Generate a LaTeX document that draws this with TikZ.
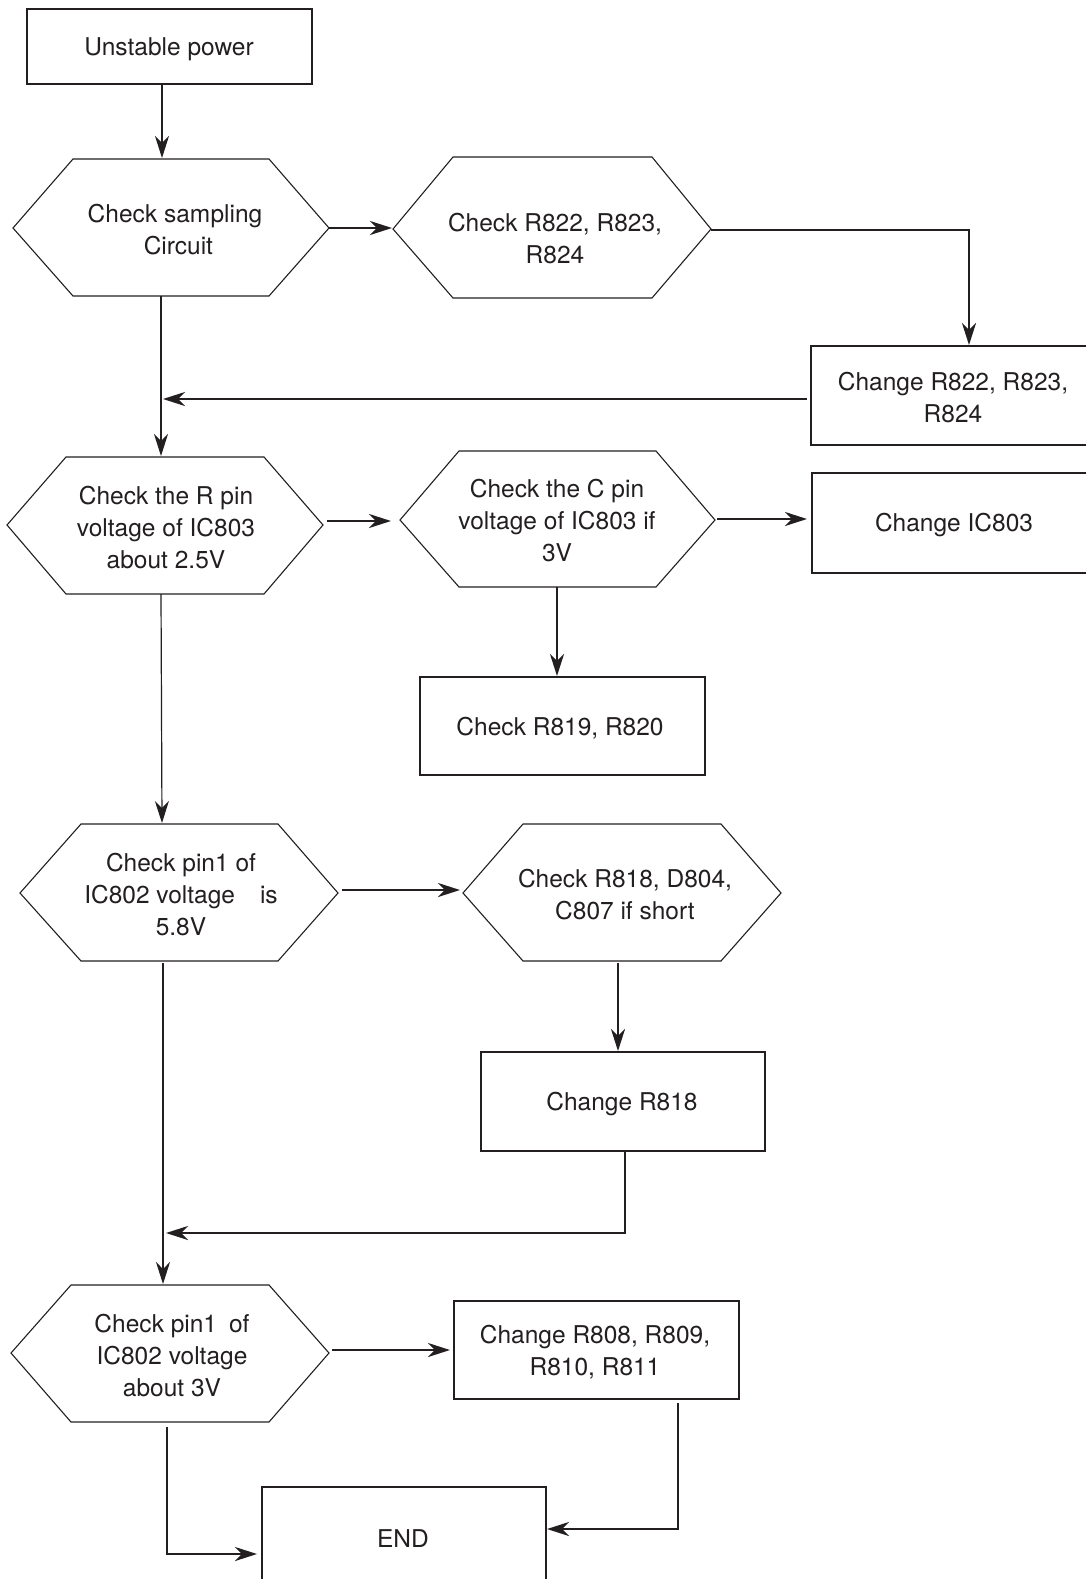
\documentclass[tikz,border=0pt]{standalone}
\usepackage{fontspec}
\setmainfont{TeX Gyre Heros}
\usetikzlibrary{arrows.meta}
\definecolor{ink}{HTML}{231F20}
\tikzset{
  boxnode/.style={draw=ink, line width=0.6pt, inner sep=0pt, align=center,
    font=\fontsize{12.25}{16}\selectfont, text=ink},
  txtnode/.style={inner sep=0pt, align=center, font=\fontsize{12.25}{16}\selectfont, text=ink},
  hexline/.style={draw=ink, line width=0.55pt, line join=miter},
  thin/.style={draw=ink, line width=0.6pt, -{Stealth[length=11pt,width=7pt,inset=3.5pt]}},
  thick/.style={draw=ink, line width=1.4pt, -{Stealth[length=11pt,width=7pt,inset=3.5pt]}}
}
\begin{document}
\begin{tikzpicture}[x=0.5pt,y=-0.5pt]
\useasboundingbox (0,0) rectangle (1086,1579);
\fill[white] (0,0) rectangle (1086,1579);

% boxes
\node[boxnode, minimum width=142.5pt, minimum height=37.5pt] (b0) at (169.5,46.5) {};
\node[txtnode] (t0) at (169,49) {Unstable power};
\node[boxnode, minimum width=144.5pt, minimum height=49.5pt] (b1) at (955.5,395.5) {};
\node[txtnode] (t1) at (953,398) {Change R822, R823,\\R824};
\node[boxnode, minimum width=144pt, minimum height=50pt] (b2) at (956,523) {};
\node[txtnode] (t2) at (954,525) {Change IC803};
\node[boxnode, minimum width=142.5pt, minimum height=49pt] (b3) at (562.5,726) {};
\node[txtnode] (t3) at (560,728) {Check R819, R820};
\node[boxnode, minimum width=142pt, minimum height=49.5pt] (b4) at (623,1101.5) {};
\node[txtnode] (t4) at (622,1104) {Change R818};
\node[boxnode, minimum width=142.5pt, minimum height=49pt] (b5) at (596.5,1350) {};
\node[txtnode] (t5) at (595,1352) {Change R808, R809,\\R810, R811};
\node[boxnode, minimum width=142pt, minimum height=56.5pt] (b6) at (404,1543.5) {};
\node[txtnode] (t6) at (403,1539) {END};

% hexagons
\draw[hexline] (13,228) -- (73,159) -- (269,159) -- (329,228) -- (269,296) -- (73,296) -- cycle;
\node[txtnode] (h1) at (175,230) {Check sampling\\\ Circuit};
\draw[hexline] (393,229) -- (453,157) -- (652,157) -- (711,229) -- (652,298) -- (453,298) -- cycle;
\node[txtnode] (h2) at (555,239) {Check R822, R823,\\R824};
\draw[hexline] (7,525) -- (66,457) -- (264,457) -- (323,525) -- (264,594) -- (66,594) -- cycle;
\node[txtnode] (h3) at (166,528) {Check the R pin\\voltage of IC803\\about 2.5V};
\draw[hexline] (400,520) -- (459,451) -- (656,451) -- (715,520) -- (656,587) -- (459,587) -- cycle;
\node[txtnode] (h4) at (557,521) {Check the C pin\\voltage of IC803 if\\3V};
\draw[hexline] (20,893) -- (81,824) -- (278,824) -- (338,893) -- (278,961) -- (81,961) -- cycle;
\node[txtnode] (h5) at (181,895) {Check pin1 of\\IC802 voltage\hspace{12.5pt}is\\5.8V};
\draw[hexline] (463,893) -- (523,824) -- (721,824) -- (781,893) -- (721,961) -- (523,961) -- cycle;
\node[txtnode] (h6) at (625,895) {Check R818, D804,\\C807 if short};
\draw[hexline] (11,1353) -- (71,1285) -- (269,1285) -- (329,1353) -- (269,1422) -- (71,1422) -- cycle;
\node[txtnode] (h7) at (172,1356) {Check pin1\hspace{6pt}of\\IC802 voltage\\about 3V};

% connector end points
\coordinate (c1a) at (162,84);   \coordinate (c1b) at (162,158);
\coordinate (c2a) at (329,228);  \coordinate (c2b) at (392,228);
\coordinate (c3a) at (711,230);  \coordinate (c3m) at (969,230); \coordinate (c3b) at (969,345);
\coordinate (c4a) at (807,399);  \coordinate (c4b) at (163,399);
\coordinate (c5a) at (161,296);  \coordinate (c5b) at (161,456);
\coordinate (c6a) at (327,521);  \coordinate (c6b) at (391,521);
\coordinate (c7a) at (717,519);  \coordinate (c7b) at (807,519);
\coordinate (c8a) at (557,587);  \coordinate (c8b) at (557,676);
\coordinate (c9a) at (161,594);  \coordinate (c9b) at (162,823);
\coordinate (c10a) at (342,890); \coordinate (c10b) at (460,890);
\coordinate (c11a) at (618,963); \coordinate (c11b) at (618,1051);
\coordinate (c12a) at (625,1151); \coordinate (c12m) at (625,1233); \coordinate (c12b) at (166,1233);
\coordinate (c13a) at (163,963); \coordinate (c13b) at (163,1284);
\coordinate (c14a) at (332,1350); \coordinate (c14b) at (450,1350);
\coordinate (c15a) at (167,1427); \coordinate (c15m) at (167,1554); \coordinate (c15b) at (257,1554);
\coordinate (c16a) at (678,1403); \coordinate (c16m) at (678,1529); \coordinate (c16b) at (547,1529);

% connectors
\draw[thin] (c1a) -- (c1b);
\draw[thick] (c2a) -- (c2b);
\draw[thick] (c3a) -- (c3m) -- (c3b);
\draw[thick] (c4a) -- (c4b);
\draw[thin] (c5a) -- (c5b);
\draw[thick] (c6a) -- (c6b);
\draw[thick] (c7a) -- (c7b);
\draw[thick] (c8a) -- (c8b);
\draw[thin] (c9a) -- (c9b);
\draw[thick] (c10a) -- (c10b);
\draw[thick] (c11a) -- (c11b);
\draw[thick] (c12a) -- (c12m) -- (c12b);
\draw[thin] (c13a) -- (c13b);
\draw[thick] (c14a) -- (c14b);
\draw[thick] (c15a) -- (c15m) -- (c15b);
\draw[thick] (c16a) -- (c16m) -- (c16b);
\end{tikzpicture}
\end{document}
